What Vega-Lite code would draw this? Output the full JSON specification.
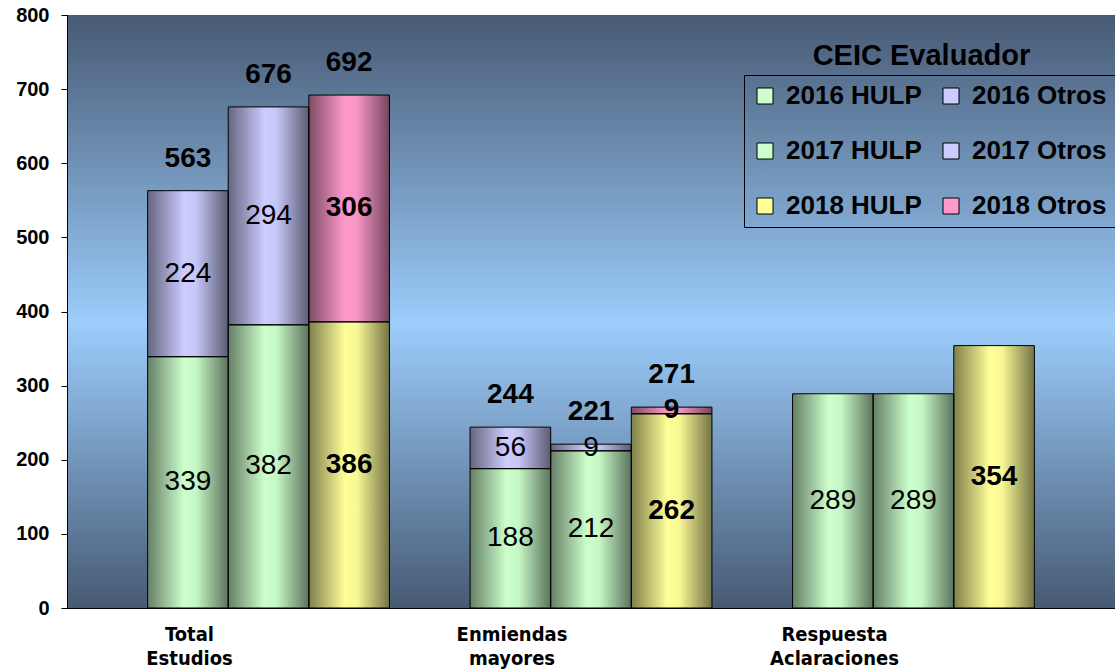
{
  "$schema": "https://vega.github.io/schema/vega-lite/v6.json",
  "width": 1048,
  "height": 593,
  "autosize": "none",
  "padding": {"left": 67, "top": 15, "right": 0, "bottom": 64},
  "background": "white",
  "config": {
    "font": "Liberation Sans",
    "view": {
      "stroke": null,
      "fill": {"gradient": "linear", "x1": 0, "y1": 0, "x2": 0, "y2": 1,
        "stops": [{"offset": 0, "color": "#475a74"}, {"offset": 0.52, "color": "#9ccdfc"}, {"offset": 1, "color": "#475a74"}]}
    }
  },
  "data": {"values": [
    {"categoria": "Total Estudios", "anio": "2016", "serie": "2016 HULP", "valor": 339},
    {"categoria": "Total Estudios", "anio": "2016", "serie": "2016 Otros", "valor": 224},
    {"categoria": "Total Estudios", "anio": "2017", "serie": "2017 HULP", "valor": 382},
    {"categoria": "Total Estudios", "anio": "2017", "serie": "2017 Otros", "valor": 294},
    {"categoria": "Total Estudios", "anio": "2018", "serie": "2018 HULP", "valor": 386},
    {"categoria": "Total Estudios", "anio": "2018", "serie": "2018 Otros", "valor": 306},
    {"categoria": "Enmiendas mayores", "anio": "2016", "serie": "2016 HULP", "valor": 188},
    {"categoria": "Enmiendas mayores", "anio": "2016", "serie": "2016 Otros", "valor": 56},
    {"categoria": "Enmiendas mayores", "anio": "2017", "serie": "2017 HULP", "valor": 212},
    {"categoria": "Enmiendas mayores", "anio": "2017", "serie": "2017 Otros", "valor": 9},
    {"categoria": "Enmiendas mayores", "anio": "2018", "serie": "2018 HULP", "valor": 262},
    {"categoria": "Enmiendas mayores", "anio": "2018", "serie": "2018 Otros", "valor": 9},
    {"categoria": "Respuesta Aclaraciones", "anio": "2016", "serie": "2016 HULP", "valor": 289},
    {"categoria": "Respuesta Aclaraciones", "anio": "2017", "serie": "2017 HULP", "valor": 289},
    {"categoria": "Respuesta Aclaraciones", "anio": "2018", "serie": "2018 HULP", "valor": 354}
  ]},
  "layer": [
    {
      "mark": {"type": "bar"},
      "encoding": {
        "x": {"field": "categoria", "type": "nominal", "sort": ["Total Estudios", "Enmiendas mayores", "Respuesta Aclaraciones"],
          "scale": {"paddingInner": 0.25, "paddingOuter": 0.25},
          "axis": {"title": null, "ticks": false, "labelAngle": 0, "labelExpr": "split(datum.label, ' ')",
            "labelFont": "Liberation Sans Narrow, DejaVu Sans Condensed, Liberation Sans", "labelFontSize": 20, "labelFontWeight": "bold", "labelColor": "black",
            "labelOffset": -79, "labelPadding": 16, "labelLineHeight": 24, "domainColor": "black", "labelBaseline": "top"}},
        "xOffset": {"field": "anio", "type": "nominal", "scale": {"paddingInner": 0, "paddingOuter": 0}},
        "y": {"field": "valor", "type": "quantitative", "stack": "zero", "scale": {"domain": [0, 800], "nice": false},
          "axis": {"title": null, "grid": false, "values": [0, 100, 200, 300, 400, 500, 600, 700, 800],
            "domainColor": "black", "tickColor": "black", "tickSize": 6, "labelFontSize": 20, "labelFontWeight": "bold",
            "labelColor": "black", "labelPadding": 12}},
        "order": {"field": "serie", "sort": "ascending"},
        "color": {"field": "serie", "type": "nominal",
          "scale": {"domain": ["2016 HULP", "2016 Otros", "2017 HULP", "2017 Otros", "2018 HULP", "2018 Otros"],
            "range": ["#ccffcc", "#ccccff", "#ccffcc", "#ccccff", "#ffff99", "#ff99cc"]},
          "legend": {"orient": "none", "legendX": 677, "legendY": 60, "title": null, "columns": 2, "direction": "horizontal",
            "strokeColor": "black", "padding": 8, "symbolType": "square", "symbolSize": 256, "symbolStrokeColor": "black",
            "symbolStrokeWidth": 1, "symbolOpacity": 1, "labelFont": "Liberation Sans", "labelFontSize": 26, "labelFontWeight": "bold",
            "labelColor": "black", "rowPadding": 29, "columnPadding": 16, "labelOffset": 8, "labelLimit": 300}}
      }
    },
    {
      "mark": {"type": "bar", "stroke": "black", "strokeWidth": 1,
        "fill": {"gradient": "linear", "x1": 0, "y1": 0, "x2": 1, "y2": 0,
          "stops": [{"offset": 0, "color": "rgba(0,0,0,0.5)"}, {"offset": 0.45, "color": "rgba(0,0,0,0)"}, {"offset": 0.6, "color": "rgba(0,0,0,0.03)"}, {"offset": 1, "color": "rgba(0,0,0,0.55)"}]}},
      "encoding": {
        "x": {"field": "categoria", "type": "nominal", "sort": ["Total Estudios", "Enmiendas mayores", "Respuesta Aclaraciones"]},
        "xOffset": {"field": "anio", "type": "nominal"},
        "y": {"field": "valor", "type": "quantitative", "stack": "zero"},
        "order": {"field": "serie", "sort": "ascending"},
        "detail": {"field": "serie"}
      }
    },
    {
      "transform": [
        {"filter": "datum.anio != '2018'"},
        {"stack": "valor", "groupby": ["categoria", "anio"], "sort": [{"field": "serie", "order": "ascending"}], "as": ["s0", "s1"]},
        {"fold": ["s0", "s1"], "as": ["extremo", "pos"]}
      ],
      "mark": {"type": "text", "fontSize": 28, "color": "black", "baseline": "middle"},
      "encoding": {
        "x": {"field": "categoria", "type": "nominal", "sort": ["Total Estudios", "Enmiendas mayores", "Respuesta Aclaraciones"]},
        "xOffset": {"field": "anio", "type": "nominal"},
        "y": {"field": "pos", "type": "quantitative", "aggregate": "mean"},
        "detail": {"field": "serie"},
        "text": {"field": "valor", "type": "quantitative"}
      }
    },
    {
      "transform": [
        {"filter": "datum.anio == '2018'"},
        {"stack": "valor", "groupby": ["categoria", "anio"], "sort": [{"field": "serie", "order": "ascending"}], "as": ["s0", "s1"]},
        {"fold": ["s0", "s1"], "as": ["extremo", "pos"]}
      ],
      "mark": {"type": "text", "fontSize": 28, "fontWeight": "bold", "color": "black", "baseline": "middle"},
      "encoding": {
        "x": {"field": "categoria", "type": "nominal", "sort": ["Total Estudios", "Enmiendas mayores", "Respuesta Aclaraciones"]},
        "xOffset": {"field": "anio", "type": "nominal"},
        "y": {"field": "pos", "type": "quantitative", "aggregate": "mean"},
        "detail": {"field": "serie"},
        "text": {"field": "valor", "type": "quantitative"}
      }
    },
    {
      "transform": [
        {"filter": "datum.categoria != 'Respuesta Aclaraciones'"},
        {"aggregate": [{"op": "sum", "field": "valor", "as": "total"}], "groupby": ["categoria", "anio"]}
      ],
      "mark": {"type": "text", "fontSize": 28, "fontWeight": "bold", "color": "black", "baseline": "alphabetic", "dy": -24},
      "encoding": {
        "x": {"field": "categoria", "type": "nominal", "sort": ["Total Estudios", "Enmiendas mayores", "Respuesta Aclaraciones"]},
        "xOffset": {"field": "anio", "type": "nominal"},
        "y": {"field": "total", "type": "quantitative"},
        "text": {"field": "total", "type": "quantitative"}
      }
    },
    {
      "data": {"values": [{"titulo": "CEIC Evaluador"}]},
      "mark": {"type": "text", "fontSize": 29, "fontWeight": "bold", "color": "black", "baseline": "middle", "dx": 8},
      "encoding": {
        "x": {"datum": "Respuesta Aclaraciones"},
        "xOffset": {"datum": "2017"},
        "y": {"datum": 745},
        "text": {"field": "titulo"}
      }
    }
  ]
}
